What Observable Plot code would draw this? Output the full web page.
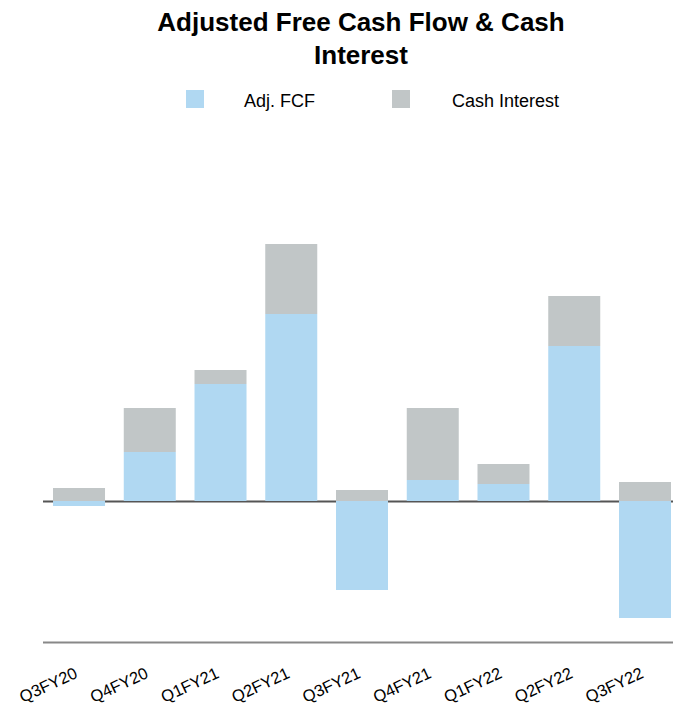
<!DOCTYPE html>
<html>
<head>
<meta charset="utf-8">
<script src="https://cdn.jsdelivr.net/npm/d3@7"></script>
<script src="https://cdn.jsdelivr.net/npm/@observablehq/plot@0.6"></script>
<style>
  html, body { margin: 0; padding: 0; background: #fff; overflow: hidden; }
  body { width: 673px; height: 706px; font-family: "Liberation Sans", Arial, sans-serif; }
  #header { position: relative; width: 673px; height: 120px; }
  #title { position: absolute; top: 6px; left: 43px; width: 636px; text-align: center;
           font-weight: bold; font-size: 26px; line-height: 33px; color: #000; }
  .sw { position: absolute; top: 90px; width: 18px; height: 18px; }
  .lbl { position: absolute; top: 92px; font-size: 18px; line-height: 18px; color: #000; white-space: nowrap; }
  #chart svg { display: block; }
</style>
</head>
<body>
<div id="header">
  <div id="title">Adjusted Free Cash Flow &amp; Cash<br>Interest</div>
  <div class="sw" id="sw0" style="left:186px"></div>
  <div class="lbl" id="lb0" style="left:244px"></div>
  <div class="sw" id="sw1" style="left:392px"></div>
  <div class="lbl" id="lb1" style="left:452px"></div>
</div>
<div id="chart"></div>
<script>
const quarters = ["Q3FY20","Q4FY20","Q1FY21","Q2FY21","Q3FY21","Q4FY21","Q1FY22","Q2FY22","Q3FY22"];
const adjFCF = [-5, 49, 117, 187, -89, 21, 17, 155, -117];
const cashInterest = [13, 44, 14, 70, 11, 72, 20, 50, 19];
const seriesNames = ["Adj. FCF", "Cash Interest"];
const seriesColors = ["#B0D8F2", "#C1C6C7"];
const yDomain = [-141, 381];

const rows = [];
quarters.forEach((q, i) => {
  rows.push({quarter: q, series: seriesNames[0], value: adjFCF[i]});
  rows.push({quarter: q, series: seriesNames[1], value: cashInterest[i]});
});

seriesNames.forEach((s, i) => {
  document.getElementById("sw" + i).style.background = seriesColors[i];
  document.getElementById("lb" + i).textContent = s;
});

const chart = Plot.plot({
  width: 673,
  height: 586,
  marginLeft: 43,
  marginRight: 0,
  marginTop: 0,
  marginBottom: 64,
  style: {fontFamily: "'Liberation Sans', Arial, sans-serif", background: "#fff"},
  x: {domain: quarters, axis: null, paddingInner: 0.265, paddingOuter: 0.085, align: 0.833, round: false},
  y: {domain: yDomain, axis: null},
  color: {domain: seriesNames, range: seriesColors},
  marks: [
    Plot.ruleY([0], {stroke: "#555", strokeWidth: 2}),
    Plot.ruleY([yDomain[0]], {stroke: "#888", strokeWidth: 2}),
    Plot.barY(rows, {x: "quarter", y: "value", fill: "series"}),
    Plot.text(quarters, {
      x: d => d, text: d => d, frameAnchor: "bottom",
      rotate: -25, textAnchor: "end", lineAnchor: "bottom",
      dx: -1, dy: 34.5, fontSize: 16.5, fill: "#000"
    })
  ]
});
document.getElementById("chart").appendChild(chart);
</script>
</body>
</html>
